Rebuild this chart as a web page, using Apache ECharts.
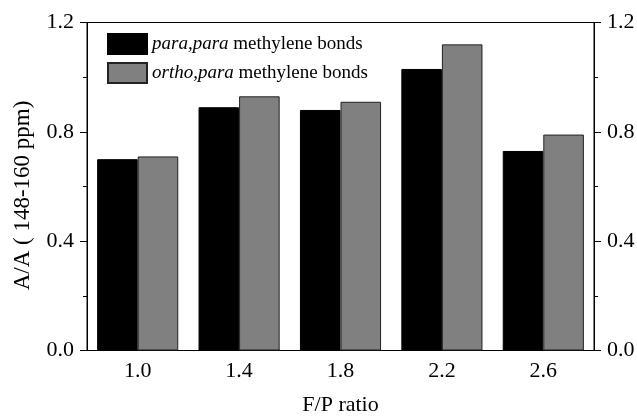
<!DOCTYPE html>
<html>
<head>
<meta charset="utf-8">
<script src="https://cdn.jsdelivr.net/npm/echarts@6/dist/echarts.min.js"></script>
<style>
  html, body { margin: 0; padding: 0; background: #fff; }
  #chart { width: 637px; height: 418px; }
</style>
</head>
<body>
<div id="chart"></div>
<script>
const ratios = ["1.0", "1.4", "1.8", "2.2", "2.6"];
const seriesNames = ["para,para methylene bonds", "ortho,para methylene bonds"];
const paraPara = [0.70, 0.89, 0.88, 1.03, 0.73];
const orthoPara = [0.71, 0.93, 0.91, 1.12, 0.79];
const yTicks = [0, 0.4, 0.8, 1.2];

const font = "'Liberation Serif', 'DejaVu Serif', serif";

const chart = echarts.init(document.getElementById("chart"));

function valueAxis(pos) {
  return {
    type: "value",
    position: pos,
    min: yTicks[0],
    max: yTicks[yTicks.length - 1],
    interval: yTicks[1] - yTicks[0],
    axisLine: { show: true, lineStyle: { color: "#000", width: 1 } },
    axisTick: { show: true, inside: false, length: 7, lineStyle: { color: "#000" } },
    minorTick: { show: true, splitNumber: 2, length: 4, lineStyle: { color: "#000" } },
    splitLine: { show: false },
    axisLabel: {
      color: "#000",
      fontFamily: font,
      fontSize: 22,
      margin: 13,
      formatter: v => v.toFixed(1)
    }
  };
}

const leftAxis = valueAxis("left");
leftAxis.name = "A/A ( 148-160 ppm)";
leftAxis.nameLocation = "middle";
leftAxis.nameGap = 53;
leftAxis.nameTextStyle = { color: "#000", fontFamily: font, fontSize: 23, padding: [0, 18, 0, 0] };

chart.setOption({
  animation: false,
  backgroundColor: "#fff",
  grid: {
    left: 87, right: 43, top: 22.5, bottom: 67.5,
    outerBoundsMode: "none",
    show: true, borderColor: "#000", borderWidth: 1, backgroundColor: "transparent"
  },
  legend: {
    orient: "vertical",
    left: 107,
    top: 33,
    padding: 0,
    itemWidth: 39,
    itemHeight: 20,
    itemGap: 7,
    icon: "rect",
    data: seriesNames,
    formatter: name => {
      const parts = name.split(" ");
      return "{i|" + parts[0] + "} " + parts.slice(1).join(" ");
    },
    textStyle: {
      color: "#000",
      fontFamily: font,
      fontSize: 19,
      rich: {
        i: { fontStyle: "italic", fontFamily: font, fontSize: 19, color: "#000" }
      }
    }
  },
  xAxis: {
    type: "category",
    data: ratios,
    axisLine: { lineStyle: { color: "#000", width: 1 } },
    axisTick: { show: false },
    axisLabel: { color: "#000", fontFamily: font, fontSize: 22, margin: 10 },
    name: "F/P ratio",
    nameLocation: "middle",
    nameGap: 44,
    nameTextStyle: { color: "#000", fontFamily: font, fontSize: 22 }
  },
  yAxis: [leftAxis, valueAxis("right")],
  series: [
    {
      name: seriesNames[0],
      type: "bar",
      data: paraPara,
      barWidth: "40%",
      barGap: "0%",
      itemStyle: { color: "#000", borderColor: "#000", borderWidth: 1 }
    },
    {
      name: seriesNames[1],
      type: "bar",
      data: orthoPara,
      barWidth: "40%",
      barGap: "0%",
      itemStyle: { color: "#808080", borderColor: "#222", borderWidth: 1 }
    }
  ]
});
</script>
</body>
</html>
